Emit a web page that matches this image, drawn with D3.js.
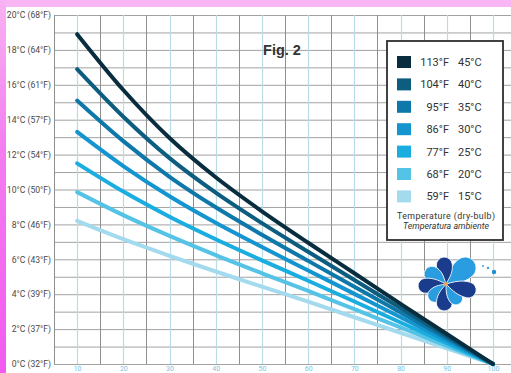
<!DOCTYPE html>
<html><head><meta charset="utf-8">
<script src="https://cdn.jsdelivr.net/npm/d3@7"></script>
<style>
html,body{margin:0;padding:0;background:#fff;}
svg{display:block;font-family:"Liberation Sans",Arial,sans-serif;}
</style></head>
<body><svg id="c" width="511" height="373"></svg>
<script>
// ---- data ----
const humidity = [10,20,30,40,50,60,70,80,90,100];
const xTickLabels = ["10","20","30","40","50","60","70","80","90","100"];
const yTicks = [0,2,4,6,8,10,12,14,16,18,20];
const yTickLabels = ["0°C (32°F)","2°C (37°F)","4°C (39°F)","6°C (43°F)","8°C (46°F)","10°C (50°F)","12°C (54°F)","14°C (57°F)","16°C (61°F)","18°C (64°F)","20°C (68°F)"];
const seriesF = ["113°F","104°F","95°F","86°F","77°F","68°F","59°F"];
const seriesC = ["45°C","40°C","35°C","30°C","25°C","20°C","15°C"];
const s45 = [18.9,15.7,12.95,10.7,8.75,6.95,5.2,3.45,1.72,0];
const s40 = [16.9,14.17,11.80,9.82,8.07,6.43,4.81,3.20,1.59,0];
const s35 = [15.1,12.77,10.73,8.98,7.41,5.91,4.43,2.95,1.47,0];
const s30 = [13.3,11.34,9.61,8.09,6.70,5.36,4.02,2.68,1.33,0];
const s25 = [11.5,9.88,8.44,7.15,5.94,4.77,3.58,2.38,1.19,0];
const s20 = [9.85,8.53,7.34,6.24,5.20,4.19,3.14,2.10,1.04,0];
const s15 = [8.2,7.15,6.2,5.3,4.43,3.57,2.68,1.79,0.89,0];
const seriesValues = [s45,s40,s35,s30,s25,s20,s15];
const colors = ["#082d3e","#0c5d7f","#0f78aa","#1495d0","#1aaddf","#55c3e6","#a3daee"];

const svg = d3.select("#c");
const x = d3.scaleLinear().domain([5,100]).range([54,493]);
const y = d3.scaleLinear().domain([0,20]).range([364,15]);
const W = 511;

// background frame
const defs = svg.append("defs");
const g1 = defs.append("linearGradient").attr("id","lg").attr("x1",0).attr("y1",0).attr("x2",0).attr("y2",1);
g1.append("stop").attr("offset","0").attr("stop-color","#f8b2f3");
g1.append("stop").attr("offset","0.4").attr("stop-color","#f47cf0");
g1.append("stop").attr("offset","1").attr("stop-color","#f35af0");
svg.append("rect").attr("x",0).attr("y",0).attr("width",W).attr("height",7).attr("fill","#f9b6f4");
svg.append("rect").attr("x",0).attr("y",0).attr("width",6).attr("height",373).attr("fill","url(#lg)");

// grid
const grid = svg.append("g");
const minorY = d3.range(0,21,1);
grid.selectAll("line.h").data(minorY).join("line")
  .attr("x1",x(5)).attr("x2",W).attr("y1",d=>y(d)+0.5).attr("y2",d=>y(d)+0.5)
  .attr("stroke","#a2a2a2").attr("stroke-width",1);
const vx = d3.range(5,106,5);
grid.selectAll("line.v").data(vx).join("line")
  .attr("x1",d=>Math.round(x(d))+0.5).attr("x2",d=>Math.round(x(d))+0.5)
  .attr("y1",y(20)).attr("y2",y(0))
  .attr("stroke",d=>d%10===0?"#b9dce9":"#8f8f8f").attr("stroke-width",d=>d%10===0?1.2:1);

// axes
const ya = svg.append("g").attr("transform",`translate(${x(5)-3},0)`)
  .call(d3.axisLeft(y).tickValues(yTicks).tickSize(0).tickPadding(0).tickFormat((d,i)=>yTickLabels[i]));
ya.select(".domain").remove();
ya.selectAll("text").attr("font-size","8.6px").attr("fill","#4a4a4a").attr("font-family","Roboto, 'Liberation Sans', sans-serif");

const xa = svg.append("g").attr("transform",`translate(0,${y(0)})`)
  .call(d3.axisBottom(x).tickValues(humidity).tickSize(0).tickPadding(2).tickFormat((d,i)=>xTickLabels[i]));
xa.select(".domain").remove();
xa.selectAll("text").attr("font-size","7px").attr("fill","#7cc3df").attr("font-family","Roboto, 'Liberation Sans', sans-serif");

// lines
const line = d3.line().x((d,i)=>x(humidity[i])).y(d=>y(d)).curve(d3.curveMonotoneX);
svg.append("g").selectAll("path").data(seriesValues.slice().reverse()).join("path")
  .attr("d",d=>line(d)).attr("fill","none")
  .attr("stroke",(d,i)=>colors[colors.length-1-i]).attr("stroke-width",4).attr("stroke-linecap","round");

// title
svg.append("text").attr("x",282).attr("y",55).attr("text-anchor","middle")
  .attr("font-size","14.5px").attr("font-weight","bold").attr("fill","#333").text("Fig. 2");

// legend
const lg = svg.append("g");
lg.append("rect").attr("x",387).attr("y",41).attr("width",116).attr("height",199)
  .attr("fill","#fff").attr("stroke","#2e2e2e").attr("stroke-width",1.8);
const rows = lg.selectAll("g.r").data(seriesC).join("g").attr("transform",(d,i)=>`translate(0,${62+i*22.4})`);
rows.append("rect").attr("x",397).attr("y",-6).attr("width",14).attr("height",12).attr("fill",(d,i)=>colors[i]);
rows.append("text").attr("x",449).attr("y",4).attr("text-anchor","end").attr("font-size","11px")
  .attr("fill","#333").attr("font-family","Roboto, 'Liberation Sans', sans-serif").text((d,i)=>seriesF[i]);
rows.append("text").attr("x",458).attr("y",4).attr("font-size","11px")
  .attr("fill","#333").attr("font-family","Roboto, 'Liberation Sans', sans-serif").text(d=>d);
lg.append("text").attr("x",446).attr("y",219).attr("text-anchor","middle").attr("font-size","8.8px")
  .attr("fill","#333").attr("font-family","Roboto, 'Liberation Sans', sans-serif").attr("textLength",98).text("Temperature (dry-bulb)");
lg.append("text").attr("x",446).attr("y",229).attr("text-anchor","middle").attr("font-size","8.8px")
  .attr("font-style","italic").attr("fill","#333").attr("font-family","Roboto, 'Liberation Sans', sans-serif").text("Temperatura ambiente");

// logo
const logo = svg.append("g").attr("transform","translate(446,284)");
const petals = [
  {a:-40,l:36,r:11,c:"#2a9ce0"},
  {a:-95,l:27,r:8,c:"#1b3c8c"},
  {a:-145,l:25,r:8,c:"#2a9ce0"},
  {a:175,l:28,r:7.5,c:"#1b3c8c"},
  {a:135,l:23,r:7,c:"#2a9ce0"},
  {a:95,l:27,r:8,c:"#1b3c8c"},
  {a:55,l:24,r:7,c:"#2a9ce0"},
  {a:15,l:31,r:8,c:"#1b3c8c"}
];
function tear(p){
  const L=p.l, r=p.r, c=(L-r)*0.5;
  return `M0,0 C${L*0.15},${-r*0.3} ${c},${-r} ${L-r},${-r} A${r},${r} 0 0 1 ${L-r},${r} C${c},${r} ${L*0.15},${r*0.3} 0,0Z`;
}
logo.selectAll("path").data(petals).join("path")
  .attr("d",tear).attr("transform",p=>`rotate(${p.a})`).attr("fill",p=>p.c)
  .attr("stroke","#fff").attr("stroke-width",0.8);
logo.append("circle").attr("r",2).attr("fill","#f4a24a");
svg.append("circle").attr("cx",483).attr("cy",266).attr("r",1).attr("fill","#3aa0e0");
svg.append("circle").attr("cx",488).attr("cy",268).attr("r",1.2).attr("fill","#3aa0e0");
svg.append("circle").attr("cx",494).attr("cy",272).attr("r",2.2).attr("fill","#1e8fd6");
</script></body></html>
